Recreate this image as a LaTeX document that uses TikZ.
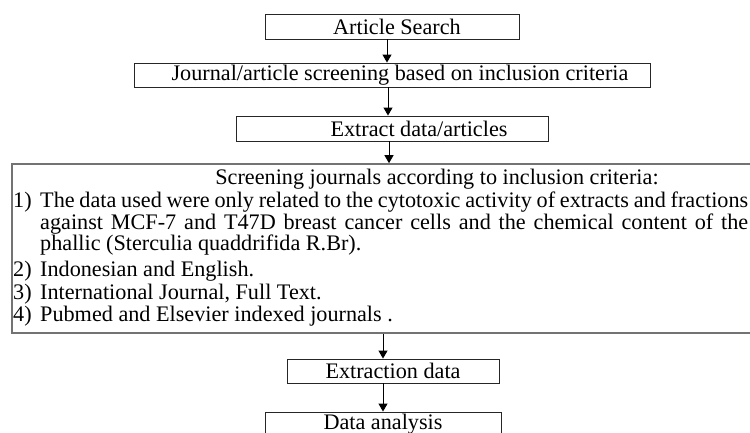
\documentclass[tikz,border=0pt]{standalone}
\usepackage{fontspec}
\setmainfont{Liberation Serif}
\usetikzlibrary{arrows.meta}
\begin{document}
\begin{tikzpicture}[x=1pt,y=-1pt,
  fnt/.style={font=\fontsize{22.2}{22}\selectfont},
  box/.style={draw=black!85, line width=0.9pt, inner sep=0pt, fnt},
  bigbox/.style={draw=black!55, line width=1.6pt, inner sep=0pt},
  txt/.style={inner sep=0pt, fnt},
  arr/.style={draw=black, line width=1pt, -{Triangle[length=8pt,width=9pt]}}]
\useasboundingbox (0,0) rectangle (750,432);
\clip (0,0) rectangle (750,432);
% boxes
\node[box, minimum width=254pt, minimum height=25pt] (search) at (392,26.5) {\hspace*{10pt}Article Search};
\node[box, minimum width=516pt, minimum height=24pt] (journal) at (392,75) {\hspace*{16pt}Journal/article screening based on inclusion criteria};
\node[box, minimum width=312pt, minimum height=25pt] (extract) at (392,128.5) {\hspace*{54pt}Extract data/articles};
\node[bigbox, minimum width=758pt, minimum height=169pt] (crit) at (391,248.5) {};
\node[box, minimum width=212pt, minimum height=24pt] (extraction) at (393,371) {Extraction data};
\node[box, minimum width=236pt, minimum height=24pt] (analysis) at (383,424) {Data analysis};
% criteria text
\node[txt, anchor=base] (title) at (437,184) {Screening journals according to inclusion criteria:};
\node[txt, anchor=base west] (n1) at (13,207) {1)};
\node[txt, anchor=base west] (l1a) at (40,207) {\makebox[708pt][s]{The data used were only related to the cytotoxic activity of extracts and fractions}};
\node[txt, anchor=base west] (l1b) at (40,229) {\makebox[708pt][s]{against MCF-7 and T47D breast cancer cells and the chemical content of the}};
\node[txt, anchor=base west] (l1c) at (40,250) {phallic (Sterculia quaddrifida R.Br).};
\node[txt, anchor=base west] (n2) at (13,276) {2)};
\node[txt, anchor=base west] (l2) at (40,276) {Indonesian and English.};
\node[txt, anchor=base west] (n3) at (13,299) {3)};
\node[txt, anchor=base west] (l3) at (40,299) {International Journal, Full Text.};
\node[txt, anchor=base west] (n4) at (13,321) {4)};
\node[txt, anchor=base west] (l4) at (40,321) {Pubmed and Elsevier indexed journals .};
% arrows
\coordinate (a1) at (387,0);
\coordinate (a2) at (388,0);
\coordinate (a3) at (389,0);
\coordinate (a4) at (383,0);
\coordinate (a5) at (383,0);
\draw[arr] (search.south -| a1) -- (journal.north -| a1);
\draw[arr] (journal.south -| a2) -- (extract.north -| a2);
\draw[arr] (extract.south -| a3) -- (crit.north -| a3);
\draw[arr] (crit.south -| a4) -- (extraction.north -| a4);
\draw[arr] (extraction.south -| a5) -- (analysis.north -| a5);
\end{tikzpicture}
\end{document}
